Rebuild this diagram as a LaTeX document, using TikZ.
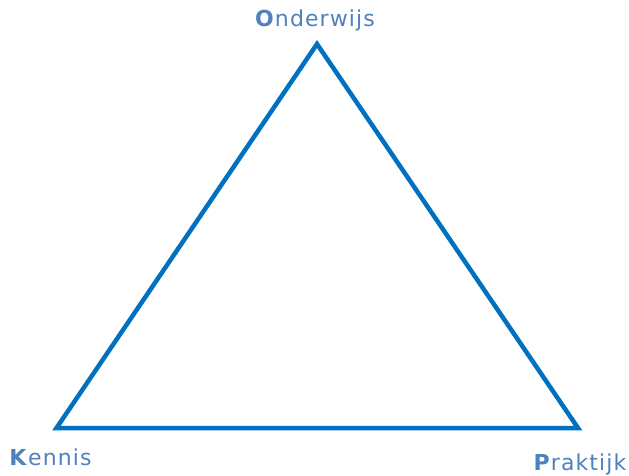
\documentclass[tikz,border=0pt]{standalone}
\usepackage{xcolor}
\usepackage{fontspec}
\setmainfont{DejaVu Sans}[LetterSpace=5]
\usepackage{tikz}
\definecolor{lijnblauw}{HTML}{0070C0}
\definecolor{tekstblauw}{HTML}{4F81BD}
\begin{document}
\begin{tikzpicture}[x=1pt,y=-1pt]
                \useasboundingbox (0,0) rectangle (629,476);
                \tikzstyle{naam}=[inner sep=0pt,anchor=base,text=tekstblauw,font=\fontsize{22}{22}\selectfont]
                \coordinate (o) at (317,44);
                \coordinate (k) at (56.5,428);
                \coordinate (p) at (578,428);
                \node[naam] at (315,27) (ol) {\textbf{O}nderwijs};
                \node[naam] at (50.5,465) (kl) {\textbf{K}ennis};
                \node[naam] at (580,470) (pl) {\textbf{P}raktijk};
                \draw[lijnblauw,line width=4.5pt,miter limit=10] (o) -- (p) -- (k) -- cycle;
            \end{tikzpicture}
\end{document}
